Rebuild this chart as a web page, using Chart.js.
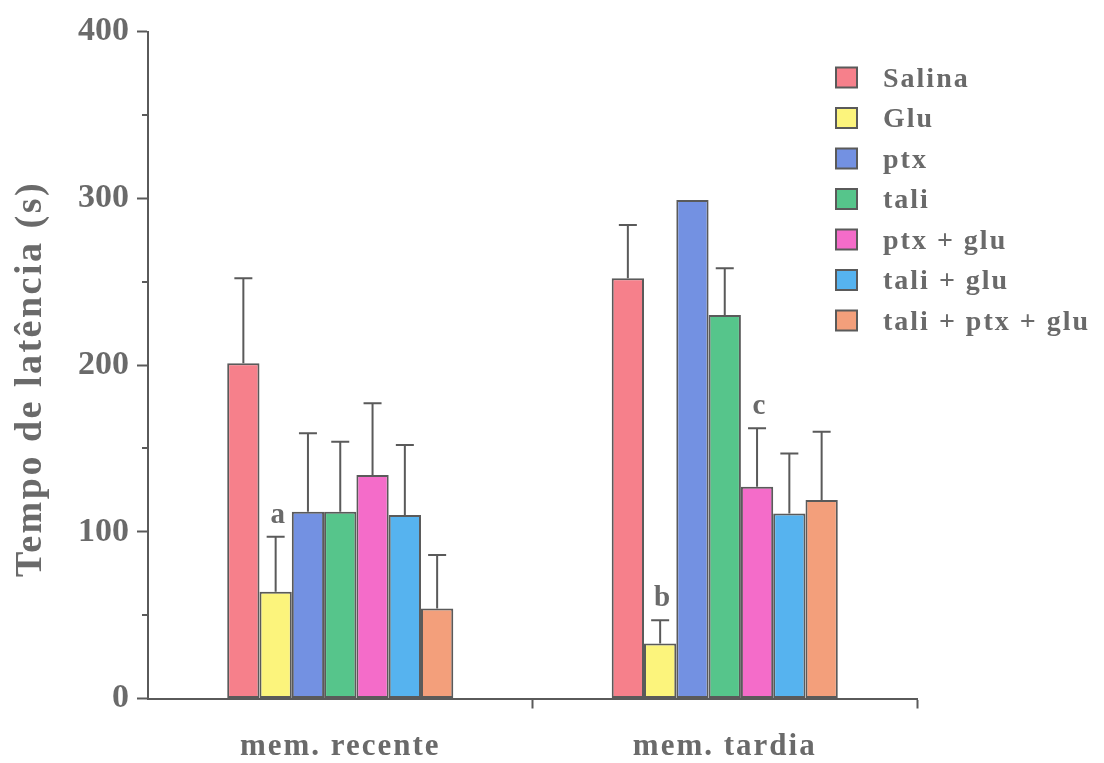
<!DOCTYPE html>
<html>
<head>
<meta charset="utf-8">
<title>Tempo de latência</title>
<script src="https://cdn.jsdelivr.net/npm/chart.js@4"></script>
<style>
  html, body { margin: 0; padding: 0; background: #ffffff; }
  #wrap { width: 1104px; height: 763px; position: relative; }
</style>
</head>
<body>
<div id="wrap"><canvas id="c"></canvas></div>
<script>
// Categories (memory test) and tick values
const categories = ['mem. recente', 'mem. tardia'];
const yTicks = [0, 100, 200, 300, 400];

// Group names, means and SEM for each memory test
const seriesNames = ['Salina', 'Glu', 'ptx', 'tali', 'ptx + glu', 'tali + glu', 'tali + ptx + glu'];
const salina     = [201, 252];
const glu        = [64, 33];
const ptx        = [112, 299];
const tali       = [112, 230];
const ptxGlu     = [134, 127];
const taliGlu    = [110, 111];
const taliPtxGlu = [54, 119];

const salinaErr     = [51, 32];
const gluErr        = [33, 14];
const ptxErr        = [47, null];
const taliErr       = [42, 28];
const ptxGluErr     = [43, 35];
const taliGluErr    = [42, 36];
const taliPtxGluErr = [32, 41];

// Significance letters: [series index, category index, letter]
const marks = [[1, 0, 'a'], [1, 1, 'b'], [4, 1, 'c']];

const seriesValues = [salina, glu, ptx, tali, ptxGlu, taliGlu, taliPtxGlu];
const seriesErrors = [salinaErr, gluErr, ptxErr, taliErr, ptxGluErr, taliGluErr, taliPtxGluErr];
const colors = ['#f6808b', '#fcf47c', '#7391e2', '#56c58b', '#f46cc9', '#56b3ef', '#f39f7b'];

const INK = '#6a6a6a';
const LINE = '#5a5a5a';
const SERIF = '"Liberation Serif", "Times New Roman", serif';

const datasets = seriesNames.map((name, i) => ({
  label: name,
  data: seriesValues[i],
  errors: seriesErrors[i],
  backgroundColor: colors[i],
  borderColor: LINE,
  borderWidth: 2,
  borderSkipped: false,
  barPercentage: 1,
  categoryPercentage: 0.588
}));

const decorPlugin = {
  id: 'decor',
  beforeDraw(chart) {
    const xs = chart.scales.x;
    if (!xs._spaced) {
      const orig = xs.drawLabels;
      xs.drawLabels = function (area) {
        const c = this.ctx;
        c.save();
        c.letterSpacing = '2px';
        orig.call(this, area);
        c.restore();
      };
      xs._spaced = true;
    }
  },
  afterDatasetsDraw(chart) {
    const ctx = chart.ctx;
    const y = chart.scales.y;
    ctx.save();
    ctx.strokeStyle = LINE;
    ctx.lineWidth = 2;
    chart.data.datasets.forEach((ds, i) => {
      const meta = chart.getDatasetMeta(i);
      meta.data.forEach((bar, j) => {
        const e = ds.errors[j];
        if (e == null) return;
        const top = y.getPixelForValue(ds.data[j] + e);
        ctx.beginPath();
        ctx.moveTo(bar.x, bar.y);
        ctx.lineTo(bar.x, top);
        ctx.moveTo(bar.x - 9, top);
        ctx.lineTo(bar.x + 9, top);
        ctx.stroke();
      });
    });

    // significance letters above error caps
    ctx.fillStyle = INK;
    ctx.font = 'bold 29px ' + SERIF;
    ctx.textAlign = 'center';
    ctx.textBaseline = 'alphabetic';
    marks.forEach(([si, ci, letter]) => {
      const ds = chart.data.datasets[si];
      const bar = chart.getDatasetMeta(si).data[ci];
      const top = y.getPixelForValue(ds.data[ci] + (ds.errors[ci] || 0));
      ctx.fillText(letter, bar.x + 2, top - 14);
    });
    ctx.restore();
  },
  afterDraw(chart) {
    const ctx = chart.ctx;
    const y = chart.scales.y;
    const area = chart.chartArea;
    ctx.save();
    // minor ticks on the value axis
    ctx.strokeStyle = LINE;
    ctx.lineWidth = 2;
    for (let v = 50; v < 400; v += 100) {
      const py = Math.round(y.getPixelForValue(v));
      ctx.beginPath();
      ctx.moveTo(area.left - 6, py);
      ctx.lineTo(area.left, py);
      ctx.stroke();
    }

    // axis title
    ctx.fillStyle = INK;
    ctx.font = 'bold 38px ' + SERIF;
    ctx.letterSpacing = '2.5px';
    ctx.textAlign = 'center';
    ctx.textBaseline = 'middle';
    ctx.translate(31, 379);
    ctx.rotate(-Math.PI / 2);
    ctx.fillText('Tempo de latência (s)', 0, 0);
    ctx.restore();

    // legend
    ctx.save();
    ctx.font = 'bold 28px ' + SERIF;
    ctx.letterSpacing = '2px';
    ctx.textAlign = 'left';
    ctx.textBaseline = 'middle';
    chart.data.datasets.forEach((ds, i) => {
      const cy = 77.5 + i * 40.5;
      ctx.fillStyle = ds.backgroundColor;
      ctx.fillRect(836, cy - 10, 21, 20);
      ctx.strokeStyle = LINE;
      ctx.lineWidth = 2;
      ctx.strokeRect(836, cy - 10, 21, 20);
      ctx.fillStyle = INK;
      ctx.fillText(ds.label, 883, cy + 2);
    });
    ctx.restore();
  }
};

new Chart(document.getElementById('c'), {
  type: 'bar',
  data: { labels: categories, datasets },
  options: {
    responsive: true,
    maintainAspectRatio: false,
    animation: false,
    layout: { padding: { left: 0, top: 31.5, right: 187, bottom: 0 } },
    plugins: { legend: { display: false }, tooltip: { enabled: false } },
    scales: {
      x: {
        afterFit(scale) { scale.height = 64.5; },
        grid: {
          display: true,
          drawOnChartArea: false,
          offset: true,
          tickLength: 10,
          tickWidth: 2,
          tickColor: (c) => (c.index === 0 ? 'rgba(0,0,0,0)' : LINE)
        },
        border: { display: true, color: LINE, width: 2 },
        ticks: {
          color: INK,
          padding: 20,
          font: { family: SERIF, size: 31, weight: 'bold' }
        }
      },
      y: {
        min: 0,
        max: 400,
        afterFit(scale) { scale.width = 148; },
        afterBuildTicks(scale) { scale.ticks = yTicks.map(v => ({ value: v })); },
        grid: {
          display: true,
          drawOnChartArea: false,
          tickLength: 11,
          tickWidth: 2,
          tickColor: LINE
        },
        border: { display: true, color: LINE, width: 2 },
        ticks: {
          color: INK,
          padding: 8,
          font: { family: SERIF, size: 34, weight: 'bold' }
        }
      }
    }
  },
  plugins: [decorPlugin]
});
</script>
</body>
</html>
